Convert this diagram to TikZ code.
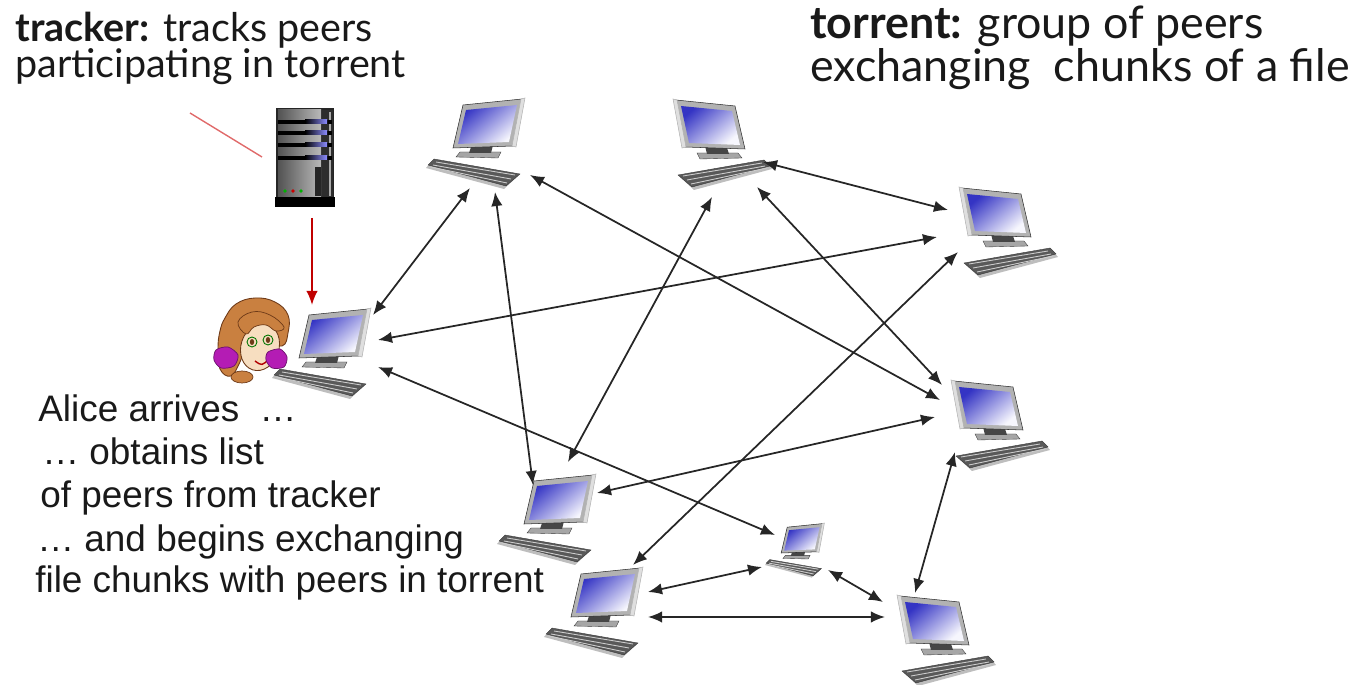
\documentclass[tikz,border=0pt]{standalone}
\usepackage{fontspec}
\setmainfont{Lato}
\newfontfamily\arialfont{Liberation Sans}
\usetikzlibrary{arrows.meta}

\definecolor{hair}{HTML}{C98040}
\definecolor{hairdark}{HTML}{6E3A18}
\definecolor{skin}{HTML}{F7DEC0}
\definecolor{bow}{HTML}{B41CB4}
\definecolor{trackred}{HTML}{C00000}
\definecolor{linkred}{HTML}{E06A6A}
\definecolor{screendark}{HTML}{3434C4}
\definecolor{screenmid}{HTML}{B4B4EE}
\definecolor{screenlight}{HTML}{F6F6FD}

\tikzset{
  % desktop computer: monitor seen from the left, keyboard in front
  pcicon/.pic={
    \fill[gray!55!black, opacity=0.35] (-42,33) -- (44,18) -- (50,25) -- (-28,46) -- cycle;
    \fill[gray!70!black, draw=gray!40!black, line width=0.2pt]
      (-44,31) -- (42,16) -- (48,22) -- (-30,43) -- cycle;
    \draw[gray!40, line width=0.5pt] (-39,32) -- (40,19);
    \draw[gray!40, line width=0.5pt] (-35,36) -- (43,22);
    \draw[gray!40, line width=0.5pt] (-31,40) -- (45,24);
    \fill[gray!70, draw=gray!45!black, line width=0.2pt]
      (-25,9) -- (16,9) -- (20,14) -- (-22,15) -- cycle;
    \fill[gray!55!black] (-17,2) -- (5,4) -- (7,10) -- (-15,10) -- cycle;
    \fill[gray!60, draw=gray!35!black, line width=0.3pt]
      (-46,-44) -- (13,-38) -- (23,5) -- (-37,3) -- cycle;
    \fill[gray!25, draw=gray!60, line width=0.3pt]
      (-49,-45) -- (-45,-44) -- (-36,3) -- (-40,4) -- cycle;
    \shade[top color=screendark, middle color=screenmid, bottom color=screenlight,
           shading angle=40]
      (-41,-38) -- (10,-33) -- (18,1) -- (-33,-1) -- cycle;
  },
  % tracker server tower
  servericon/.pic={
    \fill[black!85] (-29,-52) rectangle (29,40);
    \shade[left color=gray!65!black, right color=gray!55] (-27,-50) rectangle (16,37);
    \fill[gray!35!black] (17,-50) rectangle (28,38);
    \fill[gray!65] (24,-48) rectangle (26,36);
    \foreach \yy in {-40,-29,-17,-4} {
      \fill[black] (-27,\yy) rectangle (27,\yy+4);
      \shade[left color=black, right color=blue!45!white] (0,\yy) rectangle (22,\yy+4);
    }
    \fill[black!85] (10,7) rectangle (16,36);
    \fill[green!70!black] (-20,31) circle (1.8);
    \fill[red!80!black] (-12,31) circle (1.8);
    \fill[green!70!black] (-4,31) circle (1.8);
    \fill[black] (-30,37) rectangle (30,47);
  },
  peer/.style={inner sep=0pt, minimum size=0pt},
  peerlink/.style={{Latex[length=8pt,width=6.5pt]}-{Latex[length=8pt,width=6.5pt]},
    line width=1pt, black!85},
  titlefont/.style={font=\fontsize{22.5}{24}\selectfont},
  headfont/.style={font=\fontsize{25.5}{28}\selectfont},
  notefont/.style={font=\arialfont\fontsize{21}{24}\selectfont},
  txt/.style={anchor=base west, inner sep=0pt, text=black!90},
}

\begin{document}
\begin{tikzpicture}[x=0.02cm, y=-0.02cm]
\useasboundingbox (0,0) rectangle (1353,685);

% ---- texts
\node[txt, titlefont] (tl1) at (15,42) {\textbf{tracker:} tracks peers};
\node[txt, titlefont] (tl2) at (15,78) {participating in torrent};
\node[txt, headfont] (tr1) at (810,39) {\textbf{torrent:} group of peers};
\node[txt, headfont] (tr2) at (810,82) {exchanging\ \ chunks of a file};

\node[txt, notefont] (n1) at (38,422) {Alice arrives\ \ …};
\node[txt, notefont] (n2) at (42,465) {… obtains list};
\node[txt, notefont] (n3) at (40,508) {of peers from tracker};
\node[txt, notefont] (n4) at (37,552) {… and begins exchanging};
\node[txt, notefont] (n5) at (35,593) {file chunks with peers in torrent};

% ---- tracker
\node[peer] (s) at (305,160) {};
\pic at (s) {servericon};

% ---- peers
\node[peer] (p1) at (476,143) {};
\node[peer] (p2) at (722,144) {};
\node[peer] (p3) at (1008,232) {};
\node[peer] (a)  at (322,353) {};
\node[peer] (p5) at (1000,425) {};
\node[peer] (p6) at (547,519) {};
\node[peer] (p7) at (795,550) {};
\node[peer] (p8) at (594,612) {};
\node[peer] (p9) at (946,640) {};

\pic[xscale=-1] at (p1) {pcicon};
\pic at (p2) {pcicon};
\pic at (p3) {pcicon};
\pic[xscale=-1] at (a) {pcicon};
\pic at (p5) {pcicon};
\pic[xscale=-1] at (p6) {pcicon};
\pic[xscale=-0.6, yscale=0.6] at (p7) {pcicon};
\pic[xscale=-1] at (p8) {pcicon};
\pic at (p9) {pcicon};

% ---- Alice
\fill[hair, draw=hairdark, line width=0.5pt] plot[smooth cycle, tension=0.7] coordinates
  {(225,318) (236,304) (255,298) (275,302) (288,315) (288,333) (282,346)
   (262,342) (246,348) (240,362) (231,376) (220,369) (218,348) (220,331)};
\fill[skin, draw=hairdark, line width=0.5pt, rotate around={-18:(260,347)}]
  (260,347) ellipse (19 and 24);
\fill[hair, draw=hairdark, line width=0.4pt] plot[smooth cycle, tension=0.7] coordinates
  {(238,322) (252,312) (270,315) (284,327) (276,331) (266,325) (254,327) (246,334)};
\fill[hairdark] (252,342) ellipse (2.2 and 3);
\fill[hairdark] (268,340) ellipse (2.2 and 3);
\draw[green!45!black, line width=0.5pt] (252,342) circle (5) (268,340) circle (5);
\draw[red!70!black, line width=0.8pt] (255,361) .. controls (262,366) .. (270,358);
\fill[bow, draw=bow!60!black, line width=0.4pt] plot[smooth cycle] coordinates
  {(216,350) (228,347) (238,355) (234,366) (221,368) (214,360)};
\fill[bow, draw=bow!60!black, line width=0.4pt] plot[smooth cycle] coordinates
  {(268,352) (280,349) (287,357) (284,367) (272,368) (266,360)};
\fill[hair, draw=hairdark, line width=0.4pt] (242,377) ellipse (11 and 6);

% ---- tracker links
\coordinate (tp) at (190,113);
\draw[linkred, line width=0.8pt] (tp) -- ([shift={(-43,-3)}]s.center);
\draw[trackred, line width=1pt, -{Latex[length=8pt,width=6.5pt]}]
  ([shift={(7,58)}]s.center) -- ([shift={(-10,-48)}]a.center);

% ---- peer exchanges
\draw[peerlink] ([shift={(-6,45)}]p1.center)  -- ([shift={(51,-38)}]a.center);
\draw[peerlink] ([shift={(19,49)}]p1.center)  -- ([shift={(-14,-34)}]p6.center);
\draw[peerlink] ([shift={(54,32)}]p1.center)  -- ([shift={(-60,-25)}]p5.center);
\draw[peerlink] ([shift={(41,18)}]p2.center)  -- ([shift={(-60,-22)}]p3.center);
\draw[peerlink] ([shift={(-10,53)}]p2.center) -- ([shift={(21,-57)}]p6.center);
\draw[peerlink] ([shift={(35,43)}]p2.center)  -- ([shift={(-58,-40)}]p5.center);
\draw[peerlink] ([shift={(56,-13)}]a.center)  -- ([shift={(-71,5)}]p3.center);
\draw[peerlink] ([shift={(-50,20)}]p3.center) -- ([shift={(39,-47)}]p8.center);
\draw[peerlink] ([shift={(56,14)}]a.center)   -- ([shift={(-20,-15)}]p7.center);
\draw[peerlink] ([shift={(-65,-8)}]p5.center) -- ([shift={(50,-26)}]p6.center);
\draw[peerlink] ([shift={(-45,27)}]p5.center) -- ([shift={(-31,-47)}]p9.center);
\draw[peerlink] ([shift={(54,-20)}]p8.center) -- ([shift={(-33,17)}]p7.center);
\draw[peerlink] ([shift={(33,20)}]p7.center)  -- ([shift={(-63,-38)}]p9.center);
\draw[peerlink] ([shift={(54,5)}]p8.center)   -- ([shift={(-61,-23)}]p9.center);
\end{tikzpicture}
\end{document}
